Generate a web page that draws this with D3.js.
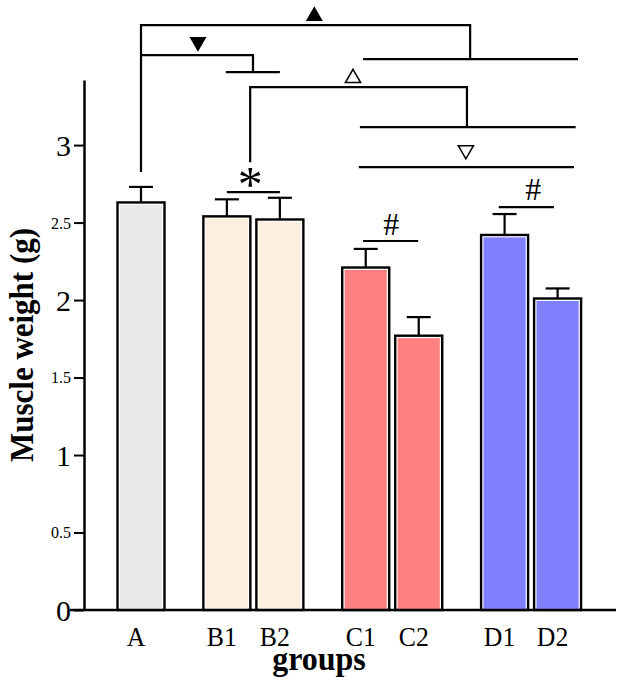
<!doctype html>
<html>
<head>
<style>
  body { margin: 0; background: #fff; }
  text { font-family: 'Liberation Serif', 'Times New Roman', serif; fill: #000; }
</style>
</head>
<body>
<svg id='chart'></svg>
<script src='https://cdnjs.cloudflare.com/ajax/libs/d3/7.8.5/d3.min.js'></script>
<script>
// bar data
const categories = ['A', 'B1', 'B2', 'C1', 'C2', 'D1', 'D2'];
const groupIndex = [0, 1, 1, 2, 2, 3, 3];
const means = [2.63, 2.54, 2.52, 2.21, 1.77, 2.42, 2.01];
const errors = [0.10, 0.11, 0.14, 0.12, 0.12, 0.135, 0.065];
const fills = ['#e8e8e8', '#fdeee0', '#fdeee0', '#ff8080', '#ff8080', '#8080ff', '#8080ff'];
const yTicks = [0, 0.5, 1, 1.5, 2, 2.5, 3];

// significance brackets as [slot, value] polylines
const brackets = [
  [[0, 2.826], [0, 3.774], [6.21, 3.774], [6.21, 3.555]],
  [[4.19, 3.555], [8.245, 3.555]],
  [[0, 3.581], [2.113, 3.581], [2.113, 3.471]],
  [[1.6, 3.471], [2.62, 3.471]],
  [[2.06, 2.890], [2.06, 3.374], [6.15, 3.374], [6.15, 3.116]],
  [[4.13, 3.116], [8.2, 3.116]],
  [[4.11, 2.858], [8.17, 2.858]],
  [[1.62, 2.697], [2.62, 2.697]],
  [[4.19, 2.381], [5.23, 2.381]],
  [[6.75, 2.600], [7.79, 2.600]]
];
// triangle markers: slot, value (centroid), filled?, pointing up?
const triangles = [
  [3.27, 3.832, true, true],
  [1.075, 3.666, true, false],
  [4.0, 3.432, false, true],
  [6.13, 2.968, false, false]
];
// text markers: label, slot, value (baseline)
const signs = [
  ['*', 2.06, 2.640],
  ['#', 4.72, 2.419],
  ['#', 7.40, 2.645]
];

const width = 624, height = 686;
const svg = d3.select('svg#chart').attr('width', width).attr('height', height);

const slot = categories.map((c, i) => i + groupIndex[i] * 0.62);
const x = d3.scaleLinear().domain([0, 7.86]).range([141, 557.6]);
const y = d3.scaleLinear().domain([0, 3.42]).range([610, 80]);
const barW = 47;

// bars
const bars = svg.append('g');
categories.forEach((c, i) => {
  const x0 = x(slot[i]) - barW / 2;
  bars.append('rect')
      .attr('x', x0).attr('y', y(means[i]))
      .attr('width', barW).attr('height', y(0) - y(means[i]))
      .attr('fill', '#fff').attr('stroke', '#000').attr('stroke-width', 2.4);
  bars.append('rect')
      .attr('x', x0 + 2.4).attr('y', y(means[i]) + 2.4)
      .attr('width', barW - 4.8).attr('height', y(0) - y(means[i]) - 2.4)
      .attr('fill', fills[i]);
  // error bar
  const top = y(means[i] + errors[i]);
  bars.append('line')
      .attr('x1', x(slot[i])).attr('x2', x(slot[i]))
      .attr('y1', y(means[i])).attr('y2', top)
      .attr('stroke', '#000').attr('stroke-width', 2.2);
  bars.append('line')
      .attr('x1', x(slot[i]) - 12).attr('x2', x(slot[i]) + 12)
      .attr('y1', top).attr('y2', top)
      .attr('stroke', '#000').attr('stroke-width', 2.2);
});

// y axis
const yAxis = svg.append('g')
    .attr('transform', 'translate(84,0)')
    .call(d3.axisLeft(y).tickValues(yTicks).tickSize(10).tickSizeOuter(0).tickPadding(3)
      .tickFormat(d => String(d)));
yAxis.select('.domain').attr('stroke-width', 2.5);
yAxis.selectAll('.tick line').attr('stroke-width', 2);
yAxis.selectAll('.tick text')
    .attr('font-family', "'Liberation Serif', serif")
    .attr('font-size', d => Number.isInteger(d) ? 30 : 16)
    .attr('dy', '0.34em');

// x axis line and labels
svg.append('line')
    .attr('x1', 70).attr('x2', 616)
    .attr('y1', y(0)).attr('y2', y(0))
    .attr('stroke', '#000').attr('stroke-width', 2.5);
svg.append('g').selectAll('text')
    .data(categories)
    .join('text')
    .attr('transform', (d, i) => `translate(${x(slot[i]) - 5},646) scale(0.92,1)`)
    .attr('text-anchor', 'middle')
    .attr('font-size', 28)
    .text(d => d);

// axis titles
svg.append('text')
    .attr('transform', 'translate(319,670) scale(1,1.08)')
    .attr('text-anchor', 'middle')
    .attr('font-size', 32).attr('font-weight', 'bold')
    .text('groups');
svg.append('text')
    .attr('transform', 'translate(33,345) rotate(-90) scale(1,1.08)')
    .attr('text-anchor', 'middle')
    .attr('font-size', 31).attr('font-weight', 'bold')
    .text('Muscle weight (g)');

// brackets
const line = d3.line().x(d => x(d[0])).y(d => y(d[1]));
svg.append('g').selectAll('path')
    .data(brackets)
    .join('path')
    .attr('d', line)
    .attr('fill', 'none')
    .attr('stroke', '#000')
    .attr('stroke-width', 2.2);

// triangle markers
svg.append('g').selectAll('path')
    .data(triangles)
    .join('path')
    .attr('d', d => d3.symbol(d3.symbolTriangle, d[2] ? 125 : 100)())
    .attr('transform', d => `translate(${x(d[0])},${y(d[1])}) rotate(${d[3] ? 0 : 180})`)
    .attr('fill', d => d[2] ? '#000' : '#fff')
    .attr('stroke', '#000')
    .attr('stroke-width', d => d[2] ? 0 : 1.5);

// text markers
svg.append('g').selectAll('text')
    .data(signs)
    .join('text')
    .attr('x', d => x(d[1]))
    .attr('y', d => y(d[2]))
    .attr('text-anchor', 'middle')
    .attr('font-size', d => d[0] === '*' ? 50 : 32)
    .text(d => d[0]);
</script>
</body>
</html>
